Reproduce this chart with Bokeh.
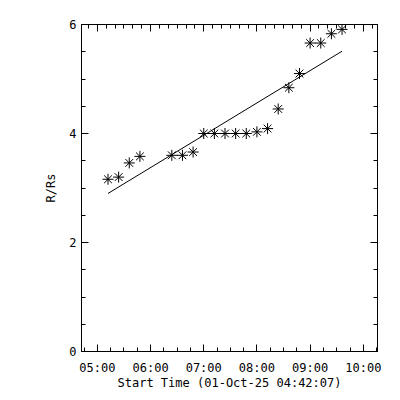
import pandas as pd
from bokeh.plotting import figure
from bokeh.models import FixedTicker, DatetimeAxis, DatetimeTickFormatter, Range1d, LinearAxis
from bokeh.embed import file_html
from bokeh.resources import INLINE

DATE = "2025-10-01"
times = ["05:12", "05:24", "05:36", "05:48", "06:24", "06:36", "06:48",
         "07:00", "07:12", "07:24", "07:36", "07:48", "08:00", "08:12",
         "08:24", "08:36", "08:48", "09:00", "09:12", "09:24", "09:36"]
r_rs = [3.16, 3.20, 3.46, 3.58, 3.60, 3.60, 3.66,
        4.00, 4.00, 4.00, 4.00, 4.00, 4.03, 4.09,
        4.45, 4.84, 5.10, 5.66, 5.66, 5.83, 5.91]
fit_times = ["05:12", "09:36"]
fit_r = [2.90, 5.51]
hour_ticks = ["05:00", "06:00", "07:00", "08:00", "09:00", "10:00"]
x_start, x_end = "04:42:07", "10:16:00"
y_ticks = [0, 2, 4, 6]

def ts(t):
    return pd.Timestamp(f"{DATE} {t}")

def ms(t):
    return ts(t).value / 1e6

x = [ts(t) for t in times]
fx = [ts(t) for t in fit_times]

major = [ms(t) for t in hour_ticks]
x0, x1 = ms(x_start), ms(x_end)
step15 = 15 * 60 * 1000
step10 = 10 * 60 * 1000
base = ms("04:00")
minor15 = [base + i * step15 for i in range(0, 30) if x0 <= base + i * step15 <= x1]
minor10 = [base + i * step10 for i in range(0, 40) if x0 <= base + i * step10 <= x1]

p = figure(width=392, height=392, x_axis_type="datetime",
           output_backend="svg", toolbar_location=None,
           min_border_left=81, min_border_right=15, min_border_top=24, min_border_bottom=41,
           frame_width=296, frame_height=327)
p.x_range = Range1d(x0, x1)
p.y_range = Range1d(0, 6)
p.grid.visible = False
p.outline_line_color = "black"
p.outline_line_width = 1
p.background_fill_color = "white"
p.border_fill_color = "white"

FONT = "DejaVu Sans Mono"

def style(ax, labels=True):
    ax.axis_line_color = "black"
    ax.major_tick_line_color = "black"
    ax.minor_tick_line_color = "black"
    ax.major_tick_in = 7
    ax.major_tick_out = 0
    ax.minor_tick_in = 4
    ax.minor_tick_out = 0
    ax.major_label_text_font = FONT
    ax.major_label_text_font_size = "12px"
    ax.major_label_text_color = "black" if labels else None
    ax.axis_label_text_font = FONT
    ax.axis_label_text_font_size = "12px"
    ax.axis_label_text_font_style = "normal"
    ax.axis_label_text_color = "black"

xa = p.xaxis[0]
xa.ticker = FixedTicker(ticks=major, minor_ticks=minor15)
xa.formatter = DatetimeTickFormatter(hours="%H:%M", minutes="%H:%M", hourmin="%H:%M", days="%H:%M")
xa.axis_label = "Start Time (01-Oct-25 04:42:07)"
style(xa)
xa.major_label_standoff = 9
xa.axis_label_standoff = -2

ya = p.yaxis[0]
ya.ticker = FixedTicker(ticks=y_ticks, minor_ticks=[i * 0.5 for i in range(13)])
ya.axis_label = "R/Rs"
style(ya)
ya.major_label_standoff = 5
ya.axis_label_standoff = 8

top = DatetimeAxis(ticker=FixedTicker(ticks=major, minor_ticks=minor10))
style(top, labels=False)
top.major_label_text_font_size = "0px"
p.add_layout(top, "above")

right = LinearAxis(ticker=FixedTicker(ticks=y_ticks, minor_ticks=[i * 0.5 for i in range(13)]))
style(right, labels=False)
right.major_label_text_font_size = "0px"
p.add_layout(right, "right")

p.line(fx, fit_r, line_color="black", line_width=1)
p.scatter(x, r_rs, marker="asterisk", size=11, line_color="black", line_width=1)

open("out.html", "w").write(file_html(p, INLINE))
